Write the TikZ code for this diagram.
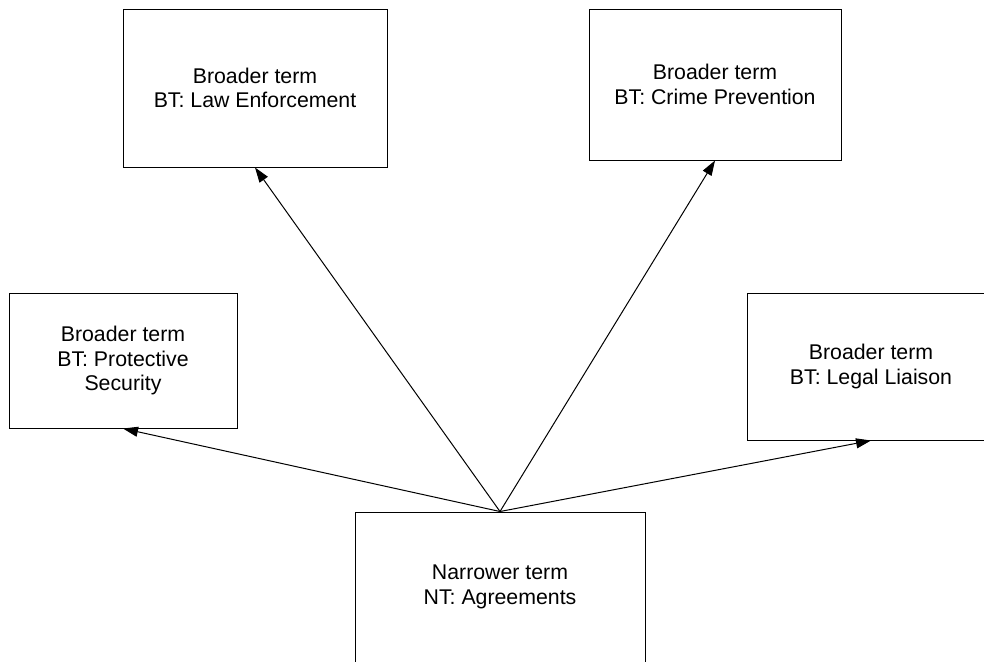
\documentclass[tikz,border=0pt]{standalone}
\usepackage{fontspec}
\setmainfont{Liberation Sans}
\usetikzlibrary{arrows.meta}
\tikzset{
  term/.style={draw, line width=0.5pt, align=center, inner sep=0pt,
    font=\fontsize{10.65}{12.25}\selectfont},
  bt/.style={-{Triangle[length=7.5pt,width=5pt]}, line width=0.5pt}
}
\begin{document}
\begin{tikzpicture}[x=0.5pt,y=-0.5pt]
\clip (0,0) rectangle (984,661);
% broader terms
\node[term, minimum width=132pt, minimum height=79pt] (law) at (255,88) {Broader term\\BT: Law Enforcement};
\node[term, minimum width=126pt, minimum height=75.5pt] (crime) at (715,84.5) {Broader term\\BT: Crime Prevention};
\node[term, minimum width=114pt, minimum height=67.5pt] (prot) at (123,360.5) {Broader term\\BT: Protective\\Security};
\node[term, minimum width=124pt, minimum height=73.5pt] (legal) at (871,366.5) {Broader term\\BT: Legal Liaison};
% narrower term
\node[term, minimum width=145pt, minimum height=75pt] (agree) at (500,587) {Narrower term\\NT: Agreements};
\draw[bt] (agree.north) -- (law.south);
\draw[bt] (agree.north) -- (crime.south);
\draw[bt] (agree.north) -- (prot.south);
\draw[bt] (agree.north) -- (legal.south);
\end{tikzpicture}
\end{document}
